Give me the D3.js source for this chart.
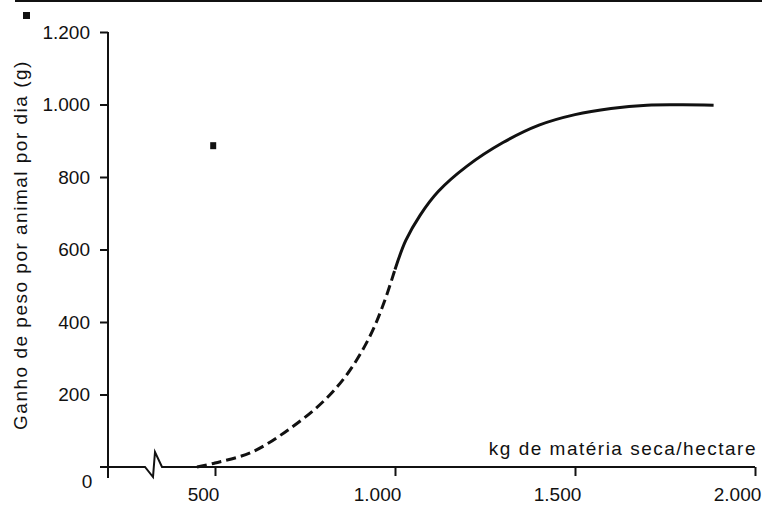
<!DOCTYPE html>
<html>
<head>
<meta charset="utf-8">
<script src="https://cdn.jsdelivr.net/npm/d3@7"></script>
<style>
  html, body { margin: 0; padding: 0; background: #fff; }
  svg { display: block; }
  text { font-family: "Liberation Sans", Arial, Helvetica, sans-serif; fill: #111; }
</style>
</head>
<body>
<svg id="chart" width="762" height="509"></svg>
<script>
// ---- data ----
const xTicks = [500, 1000, 1500, 2000];
const yTicks = [0, 200, 400, 600, 800, 1000, 1200];
// dashed (extrapolated) part of the curve
const dashedX = [450, 500, 600, 700, 800, 870, 930, 970, 1000];
const dashedY = [0, 11, 40, 100, 180, 260, 360, 455, 545];
// solid part of the curve
const solidX = [1000, 1030, 1070, 1120, 1200, 1300, 1400, 1500, 1600, 1700, 1800, 1885];
const solidY = [545, 625, 695, 760, 830, 895, 943, 972, 989, 998, 999, 998];
// isolated point
const dotX = [495];
const dotY = [885];
const xTitle = "kg de matéria seca/hectare";
const yTitle = "Ganho de peso por animal por dia (g)";

// ---- scales ----
const x = d3.scaleLinear().domain([500, 2000]).range([215, 755]);
const y = d3.scaleLinear().domain([0, 1200]).range([467, 32]);
const loc = d3.formatLocale({ decimal: ",", thousands: ".", grouping: [3], currency: ["", ""] });
const fmt = loc.format(",d");

const svg = d3.select("#chart");

// top rule and marker square (scan decorations)
svg.append("line").attr("x1", 15).attr("x2", 762).attr("y1", 1).attr("y2", 1)
  .attr("stroke", "#111").attr("stroke-width", 2);
svg.append("rect").attr("x", 23).attr("y", 12).attr("width", 7).attr("height", 7).attr("fill", "#111");

// ---- y axis ----
const yAxis = d3.axisLeft(y).tickValues(yTicks.filter(d => d > 0)).tickSize(8).tickFormat(fmt);
const gy = svg.append("g").attr("transform", "translate(108,0)").call(yAxis);
gy.select(".domain").remove();
gy.selectAll(".tick line").attr("stroke", "#111").attr("stroke-width", 2);
gy.selectAll(".tick text").attr("x", -18).attr("font-size", 19).attr("fill", "#111")
  .style("font-family", "'Liberation Sans', Arial, sans-serif");
svg.append("line").attr("x1", 108).attr("x2", 108).attr("y1", y(1200)).attr("y2", y(0) + 11)
  .attr("stroke", "#111").attr("stroke-width", 2);
// zero label
svg.append("text").attr("x", 87).attr("y", 488).attr("text-anchor", "middle")
  .attr("font-size", 19).text(fmt(yTicks[0]));

// ---- x axis ----
const xAxis = d3.axisBottom(x).tickValues(xTicks).tickSize(9).tickFormat(fmt);
const gx = svg.append("g").attr("transform", `translate(0,${y(0)})`).call(xAxis);
gx.select(".domain").remove();
gx.selectAll(".tick line").attr("stroke", "#111").attr("stroke-width", 2);
gx.selectAll(".tick text").attr("y", 21).attr("dx", -18).attr("font-size", 19).attr("fill", "#111")
  .style("font-family", "'Liberation Sans', Arial, sans-serif");
gx.selectAll(".tick").filter(d => d === 500).select("text").attr("dx", -12);

// axis line with break zigzag
const y0 = y(0);
const axisPath = d3.path();
axisPath.moveTo(100, y0);
axisPath.lineTo(145, y0);
axisPath.lineTo(153, y0 + 10);
axisPath.lineTo(155, y0 - 15);
axisPath.lineTo(162, y0);
axisPath.lineTo(x(2000), y0);
svg.append("path").attr("d", axisPath.toString()).attr("fill", "none")
  .attr("stroke", "#111").attr("stroke-width", 2).attr("stroke-linejoin", "miter");

// ---- curves ----
const line = d3.line().x(d => x(d[0])).y(d => y(d[1])).curve(d3.curveCatmullRom.alpha(0.5));
const dashedData = dashedX.map((v, i) => [v, dashedY[i]]);
const solidData = solidX.map((v, i) => [v, solidY[i]]);
svg.append("path").datum(dashedData).attr("d", line).attr("fill", "none")
  .attr("stroke", "#111").attr("stroke-width", 3).attr("stroke-dasharray", "10,5");
svg.append("path").datum(solidData).attr("d", line).attr("fill", "none")
  .attr("stroke", "#111").attr("stroke-width", 3).attr("stroke-linecap", "butt");

// isolated point
svg.selectAll("rect.dot").data(dotX.map((v, i) => [v, dotY[i]])).enter().append("rect")
  .attr("class", "dot").attr("x", d => x(d[0]) - 3).attr("y", d => y(d[1]) - 4)
  .attr("width", 6).attr("height", 7).attr("fill", "#111");

// ---- titles ----
svg.append("text").attr("x", 757).attr("y", 455).attr("text-anchor", "end")
  .attr("font-size", 19).attr("letter-spacing", 1.5).text(xTitle);
svg.append("text").attr("transform", "translate(27,245) rotate(-90)").attr("text-anchor", "middle")
  .attr("font-size", 19).attr("letter-spacing", 1.5).text(yTitle);
</script>
</body>
</html>
